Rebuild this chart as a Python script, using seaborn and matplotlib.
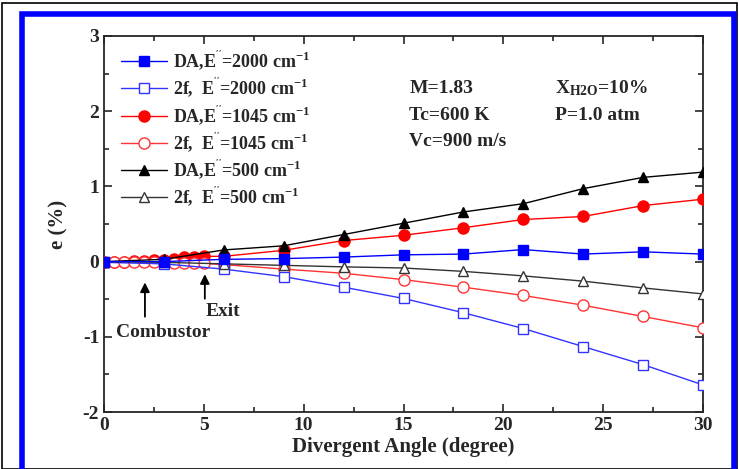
import numpy as np
import pandas as pd
import matplotlib
matplotlib.use("Agg")
import matplotlib.pyplot as plt
import seaborn as sns
from matplotlib.patches import Rectangle
from matplotlib.ticker import MultipleLocator

# ---------------- data ----------------
x_coarse = [0, 3, 6, 9, 12, 15, 18, 21, 24, 27, 30]
x_red = [0, 0.5, 1, 1.5, 2, 2.5, 3, 3.5, 4, 4.5, 5, 6, 9, 12, 15, 18, 21, 24, 27, 30]

da_2000 = [0.0, 0.0, 0.03, 0.04, 0.06, 0.09, 0.10, 0.16, 0.10, 0.13, 0.10]
f2_2000 = [-0.01, -0.03, -0.10, -0.20, -0.34, -0.49, -0.68, -0.89, -1.13, -1.37, -1.64]
da_1045 = [0.0, 0.0, 0.0, 0.005, 0.01, 0.015, 0.02, 0.04, 0.06, 0.065, 0.07,
           0.07, 0.15, 0.28, 0.35, 0.45, 0.56, 0.60, 0.745, 0.83]
f2_1045 = [0.0, 0.0, -0.005, -0.005, -0.01, -0.01, -0.01, -0.015, -0.02, -0.02, -0.025,
           -0.04, -0.10, -0.155, -0.24, -0.34, -0.45, -0.58, -0.73, -0.88]
da_500 = [0.0, 0.03, 0.155, 0.21, 0.36, 0.51, 0.66, 0.77, 0.97, 1.12, 1.19]
f2_500 = [0.0, -0.01, -0.03, -0.05, -0.07, -0.085, -0.13, -0.19, -0.26, -0.35, -0.43]

labels = [r"DA,E$^{''}$=2000 cm$^{-1}$", r"2f,  E$^{''}$=2000 cm$^{-1}$",
          r"DA,E$^{''}$=1045 cm$^{-1}$", r"2f,  E$^{''}$=1045 cm$^{-1}$",
          r"DA,E$^{''}$=500 cm$^{-1}$", r"2f,  E$^{''}$=500 cm$^{-1}$"]

# ---------------- style ----------------
sns.set_style("ticks")
plt.rcParams['font.family'] = ['Liberation Serif', 'DejaVu Serif']
plt.rcParams['font.weight'] = 'bold'
plt.rcParams['axes.unicode_minus'] = False
plt.rcParams['mathtext.fontset'] = 'custom'
plt.rcParams['mathtext.rm'] = 'Liberation Serif:bold'
plt.rcParams['mathtext.it'] = 'Liberation Serif:bold'
plt.rcParams['mathtext.bf'] = 'Liberation Serif:bold'

fig = plt.figure(figsize=(7.39, 4.69), dpi=100)
fig.patch.set_facecolor('white')
ax = fig.add_axes([104/739, 1-412/469, 599/739, 376/469])

# outer frames
fig.patches.append(Rectangle((2/739, 0), 735/739, 466/469, transform=fig.transFigure,
                             fill=False, edgecolor='black', lw=1.2, zorder=-5))
fig.patches.append(Rectangle((22/739, -0.02), 712/739, (469-14)/469 + 0.02, transform=fig.transFigure,
                             fill=False, edgecolor='#0000ff', lw=4, zorder=-5))

series = [
    (x_coarse, da_2000, '#0000ff', 's', '#0000ff'),
    (x_coarse, f2_2000, '#3333ff', 's', 'white'),
    (x_red, da_1045, '#ff0000', 'o', '#ff0000'),
    (x_red, f2_1045, '#ff3333', 'o', 'white'),
    (x_coarse, da_500, 'black', '^', 'black'),
    (x_coarse, f2_500, '#333333', '^', 'white'),
]
zorders = [5, 4, 3, 3.5, 4.5, 4]
for i in range(6):
    xs, ys, c, m, fc = series[i]
    df = pd.DataFrame({'x': xs, 'y': ys})
    sns.lineplot(data=df, x='x', y='y', ax=ax, color=c, lw=1.0, marker=m,
                 markersize=7.5 if m != 'o' else 8, markerfacecolor=fc, markeredgecolor=c,
                 markeredgewidth=1.0, sort=False, estimator=None, label=labels[i],
                 zorder=zorders[i])

ax.set_xlim(0, 30)
ax.set_ylim(-2, 3)
ax.xaxis.set_major_locator(MultipleLocator(5))
ax.xaxis.set_minor_locator(MultipleLocator(2.5))
ax.yaxis.set_major_locator(MultipleLocator(1))
ax.yaxis.set_minor_locator(MultipleLocator(0.5))
ax.tick_params(which='both', direction='in', top=True, right=True, labelsize=14, width=1.2)
ax.tick_params(which='major', length=6)
ax.tick_params(which='minor', length=3.5)
for s in ax.spines.values():
    s.set_linewidth(1.3)
for t in ax.get_xticklabels() + ax.get_yticklabels():
    t.set_fontweight('bold')

ax.set_xlabel("Divergent Angle (degree)", fontsize=15, fontweight='bold', labelpad=2)
ax.set_ylabel("e (%)", fontsize=15, fontweight='bold', labelpad=10)

handles, labs = ax.get_legend_handles_labels()
hmap = dict(zip(labs, handles))
leg = ax.legend([hmap[l] for l in labels], labels, loc='upper left', frameon=False,
                fontsize=13, handlelength=2.5, labelspacing=0.2, borderaxespad=0.3,
                handletextpad=0.35, bbox_to_anchor=(0.008, 1.0))

# annotations
kw = dict(fontsize=14, fontweight='bold', va='center', ha='left')
ax.text(15.3, 2.30, "M=1.83", **kw)
ax.text(15.3, 1.94, "Tc=600 K", **kw)
ax.text(15.3, 1.60, "Vc=900 m/s", **kw)
ax.text(22.6, 2.30, r"X$_{\mathrm{H2O}}$=10%", **kw)
ax.text(22.6, 1.94, "P=1.0 atm", **kw)

ax.annotate("", xy=(2.05, -0.24), xytext=(2.05, -0.77),
            arrowprops=dict(arrowstyle='-|>', color='black', lw=1.3, mutation_scale=14))
ax.text(0.6, -0.94, "Combustor", fontsize=14, fontweight='bold', va='center', ha='left')
ax.annotate("", xy=(5.05, -0.13), xytext=(5.05, -0.53),
            arrowprops=dict(arrowstyle='-|>', color='black', lw=1.3, mutation_scale=14))
ax.text(5.1, -0.67, "Exit", fontsize=14, fontweight='bold', va='center', ha='left')

fig.savefig("out.png", dpi=100, facecolor='white')
